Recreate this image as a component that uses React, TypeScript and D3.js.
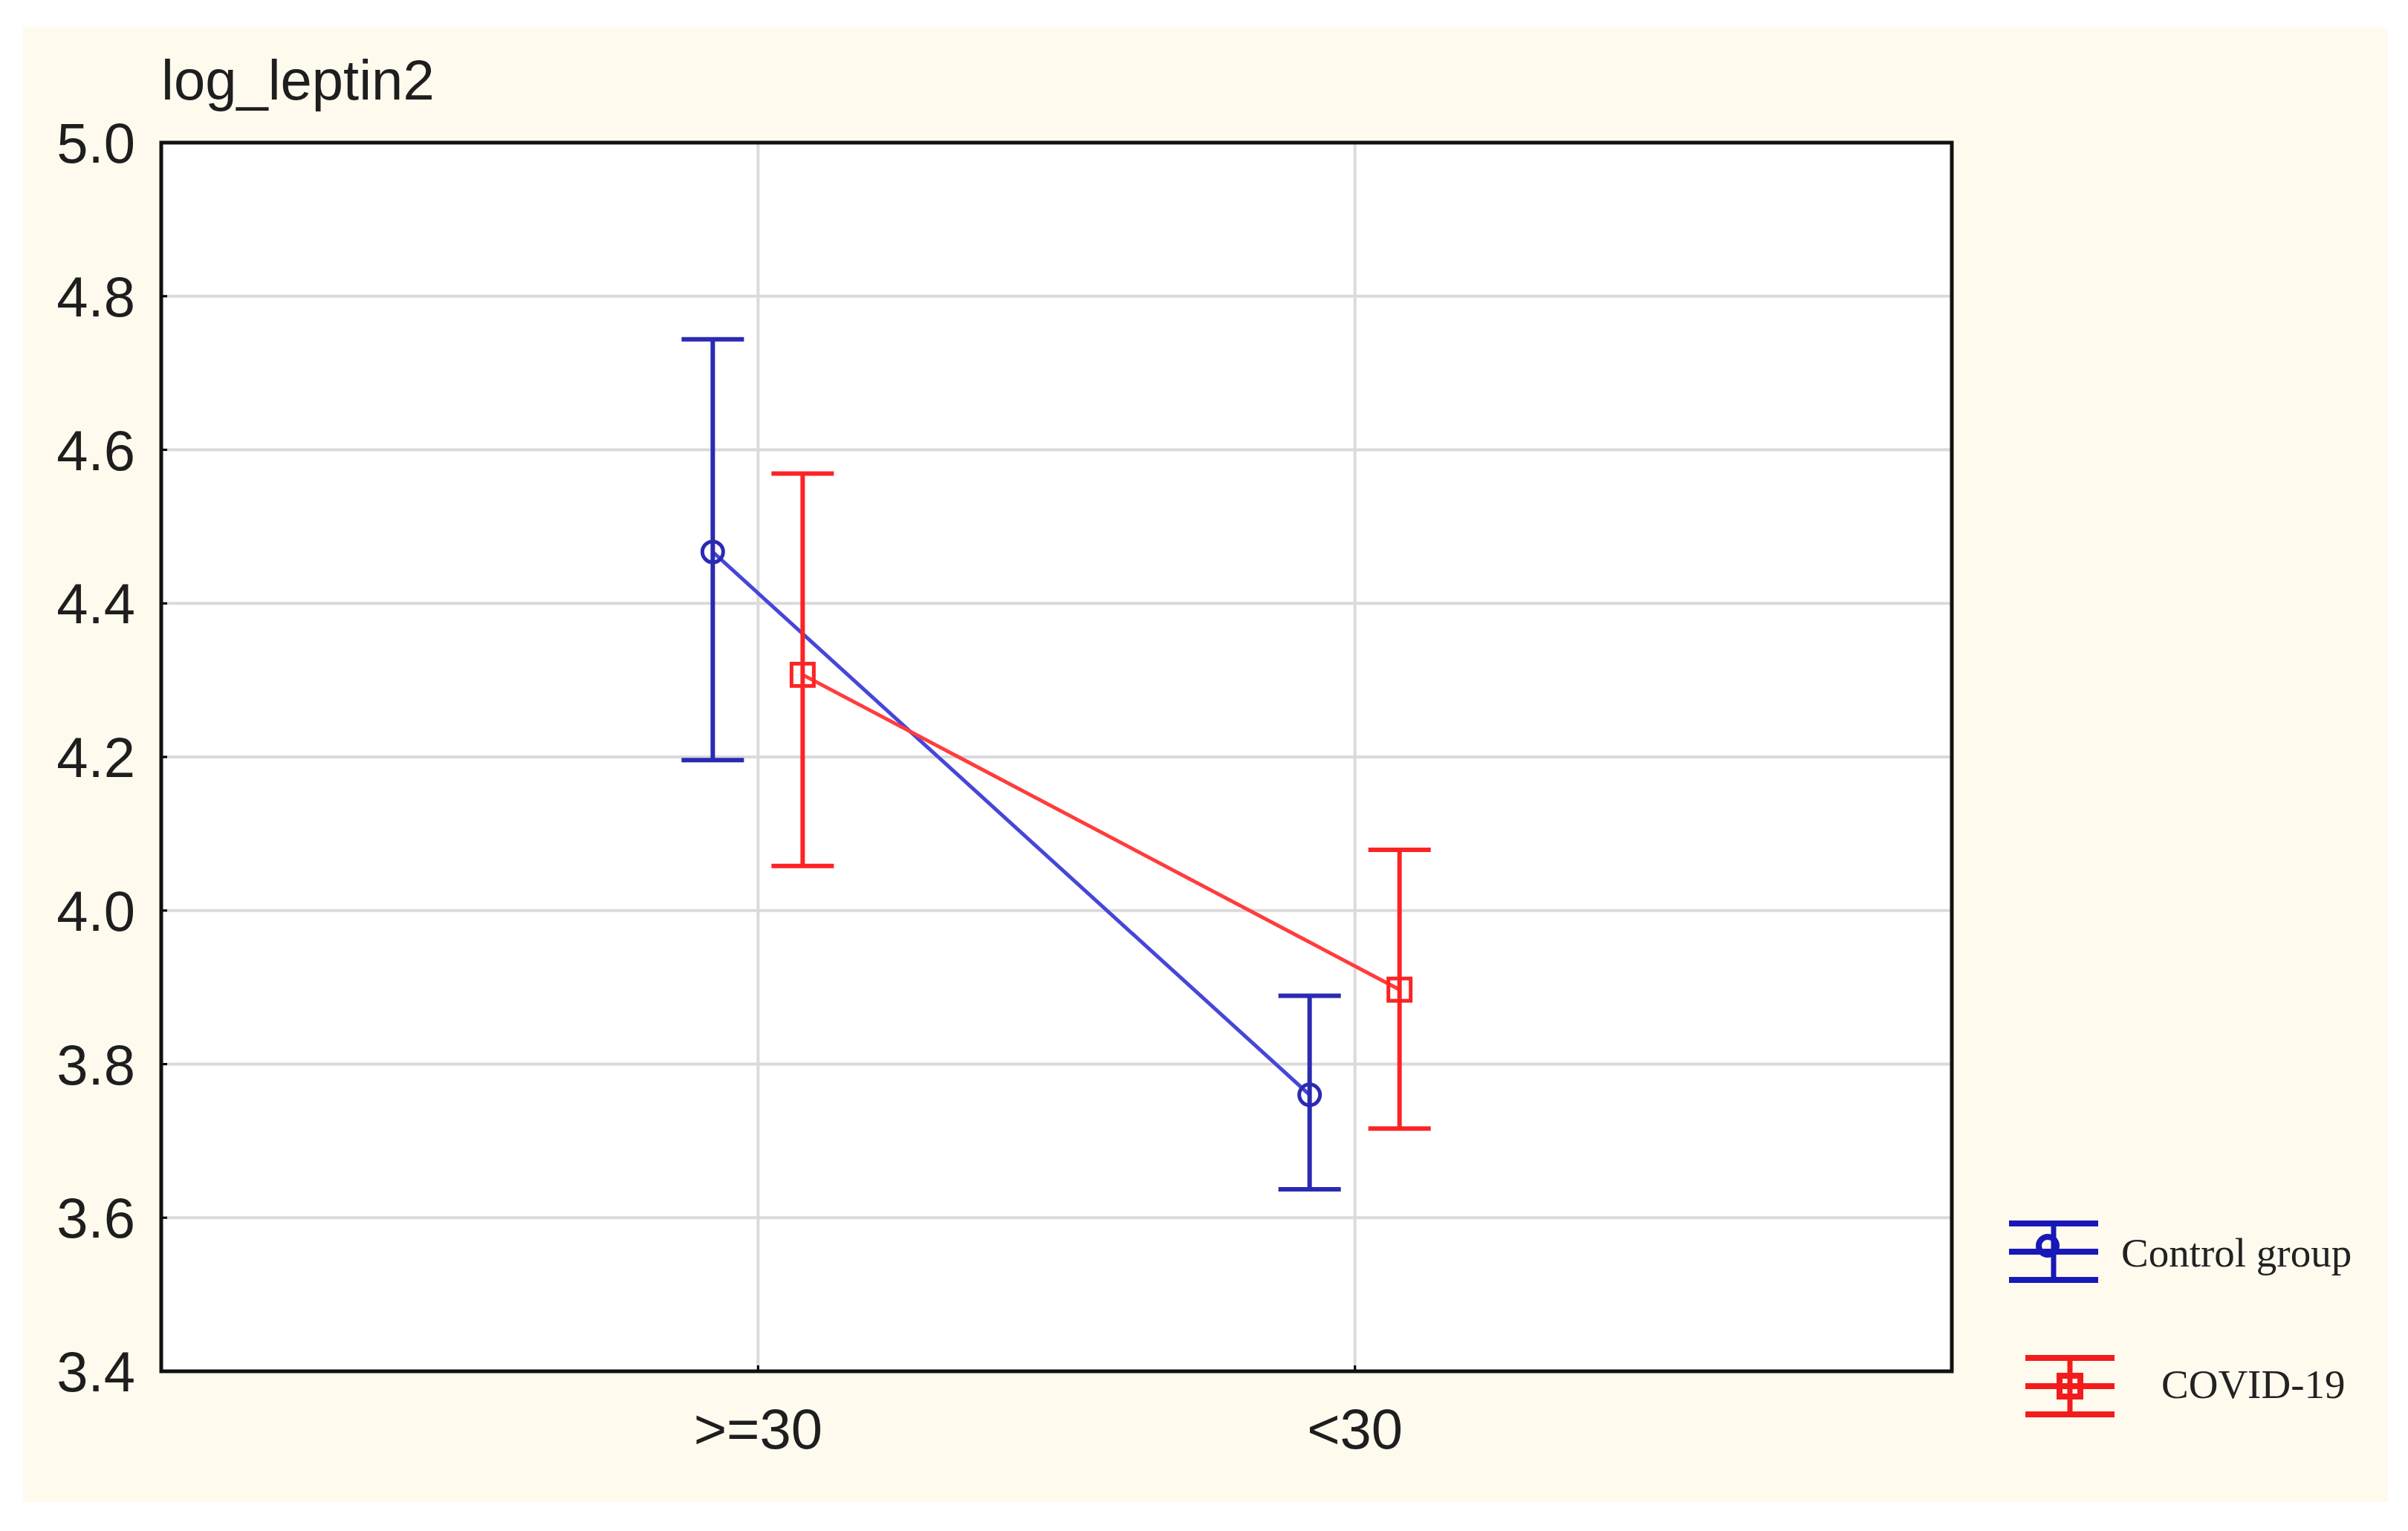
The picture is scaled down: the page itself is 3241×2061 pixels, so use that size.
import React from "react";
import * as d3 from "d3";

const categories = [">=30", "<30"];
const seriesNames = ["Control group", "COVID-19"];
const controlMean = [4.467, 3.760];
const controlUpper = [4.744, 3.889];
const controlLower = [4.196, 3.637];
const covidMean = [4.307, 3.897];
const covidUpper = [4.569, 4.079];
const covidLower = [4.058, 3.716];
const yTicks = [3.4, 3.6, 3.8, 4.0, 4.2, 4.4, 4.6, 4.8, 5.0];
const titleText = "log_leptin2";

const W = 3241;
const H = 2061;
const plot = { left: 217, right: 2627, top: 192, bottom: 1846 };

export default function App() {
  const x = d3.scalePoint<string>().domain(categories).range([plot.left, plot.right]).padding(1);
  const y = d3.scaleLinear().domain([3.4, 5.0]).range([plot.bottom, plot.top]);
  const off = d3.scalePoint<string>().domain(seriesNames).range([-61, 60]);

  const series = [
    { name: seriesNames[0], mean: controlMean, up: controlUpper, lo: controlLower, bar: "#2a2ab2", line: "#4646d8", legend: "#1818b8", marker: "circle" },
    { name: seriesNames[1], mean: covidMean, up: covidUpper, lo: covidLower, bar: "#fb2424", line: "#ff3c3c", legend: "#f21c1c", marker: "square" },
  ];

  const lineGen = d3.line<[number, number]>().x((d) => d[0]).y((d) => d[1]);
  const font = "'Liberation Sans', Arial, sans-serif";

  return (
    <svg width={W} height={H} style={{ position: "absolute", left: 0, top: 0 }} xmlns="http://www.w3.org/2000/svg">
      <rect x={0} y={0} width={W} height={H} fill="#ffffff" />
      <rect x={31} y={37} width={3183} height={1985} fill="#fffaee" />
      <rect x={plot.left} y={plot.top} width={plot.right - plot.left} height={plot.bottom - plot.top} fill="#ffffff" />
      {yTicks.map((t) => (
        <line key={"g" + t} x1={plot.left} x2={plot.right} y1={y(t)} y2={y(t)} stroke="#dadada" strokeWidth={4} />
      ))}
      {categories.map((c) => (
        <line key={"gx" + c} x1={x(c)} x2={x(c)} y1={plot.top} y2={plot.bottom} stroke="#dadada" strokeWidth={4} />
      ))}
      {yTicks.map((t) => (
        <line key={"t" + t} x1={plot.left} x2={plot.left + 8} y1={y(t)} y2={y(t)} stroke="#000" strokeWidth={3} />
      ))}
      {categories.map((c) => (
        <line key={"tx" + c} x1={x(c)} x2={x(c)} y1={plot.bottom} y2={plot.bottom - 8} stroke="#000" strokeWidth={3} />
      ))}
      {series.map((s) => {
        const pts: [number, number][] = categories.map((c, i) => [(x(c) as number) + (off(s.name) as number), y(s.mean[i])]);
        return (
          <g key={s.name}>
            <path d={lineGen(pts) || ""} fill="none" stroke={s.line} strokeWidth={5} />
            {categories.map((c, i) => {
              const cx = (x(c) as number) + (off(s.name) as number);
              return (
                <g key={c}>
                  <line x1={cx} x2={cx} y1={y(s.up[i])} y2={y(s.lo[i])} stroke={s.bar} strokeWidth={6} />
                  <line x1={cx - 42} x2={cx + 42} y1={y(s.up[i])} y2={y(s.up[i])} stroke={s.bar} strokeWidth={6} />
                  <line x1={cx - 42} x2={cx + 42} y1={y(s.lo[i])} y2={y(s.lo[i])} stroke={s.bar} strokeWidth={6} />
                  {s.marker === "circle" ? (
                    <circle cx={cx} cy={y(s.mean[i])} r={14} fill="none" stroke={s.bar} strokeWidth={5} />
                  ) : (
                    <rect x={cx - 15} y={y(s.mean[i]) - 15} width={30} height={30} fill="none" stroke={s.bar} strokeWidth={5} />
                  )}
                </g>
              );
            })}
          </g>
        );
      })}
      <rect x={plot.left} y={plot.top} width={plot.right - plot.left} height={plot.bottom - plot.top} fill="none" stroke="#111" strokeWidth={5} />
      {yTicks.map((t) => (
        <text key={"l" + t} x={182} y={y(t) + 27} textAnchor="end" fontFamily={font} fontSize={76} fill="#1e1e1e">
          {d3.format(".1f")(t)}
        </text>
      ))}
      {categories.map((c) => (
        <text key={"xl" + c} x={x(c)} y={1950} textAnchor="middle" fontFamily={font} fontSize={76} fill="#1e1e1e">
          {c}
        </text>
      ))}
      <text x={217} y={134} fontFamily={font} fontSize={76} fill="#1e1e1e">{titleText}</text>
      <g>
        {[0, 1].map((k) => {
          const s = series[k];
          const lx = k === 0 ? 2764 : 2786;
          const ly = k === 0 ? 1685 : 1866;
          const hw = 60;
          const g = 38;
          return (
            <g key={"lg" + k}>
              <line x1={lx - hw} x2={lx + hw} y1={ly - g} y2={ly - g} stroke={s.legend} strokeWidth={8} />
              <line x1={lx - hw} x2={lx + hw} y1={ly} y2={ly} stroke={s.legend} strokeWidth={8} />
              <line x1={lx - hw} x2={lx + hw} y1={ly + g} y2={ly + g} stroke={s.legend} strokeWidth={8} />
              <line x1={lx} x2={lx} y1={ly - g} y2={ly + g} stroke={s.legend} strokeWidth={7} />
              {k === 0 ? (
                <circle cx={lx - 8} cy={ly - 8} r={12} fill="none" stroke={s.legend} strokeWidth={8} />
              ) : (
                <rect x={lx - 14} y={ly - 14} width={28} height={28} fill="none" stroke={s.legend} strokeWidth={8} />
              )}
            </g>
          );
        })}
        <text x={2855} y={1705} fontFamily="'Liberation Serif', 'Times New Roman', serif" fontSize={55} fill="#222">{seriesNames[0]}</text>
        <text x={2909} y={1882} fontFamily="'Liberation Serif', 'Times New Roman', serif" fontSize={55} fill="#222">{seriesNames[1]}</text>
      </g>
    </svg>
  );
}
